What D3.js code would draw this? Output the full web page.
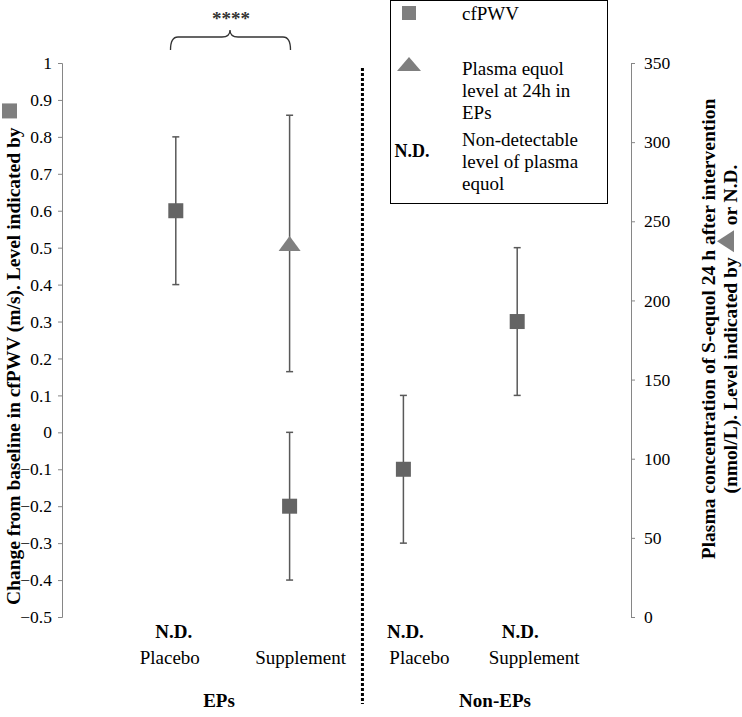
<!DOCTYPE html>
<html><head><meta charset="utf-8">
<script src="https://cdnjs.cloudflare.com/ajax/libs/d3/7.8.5/d3.min.js"></script>
<style>body{margin:0;background:#fff}svg{display:block}</style>
</head><body><svg id="c" width="742" height="717"></svg>
<script>
const categories = ["Placebo","Supplement","Placebo","Supplement"];
const categoryPos = [1,2,3,4];
const groups = ["EPs","Non-EPs"];
const cfpwvMean = [0.6,-0.2,-0.1,0.3];
const cfpwvLow  = [0.4,-0.4,-0.3,0.1];
const cfpwvHigh = [0.8,0.0,0.1,0.5];
const equolMean = [null,236,null,null];
const equolLow  = [null,155,null,null];
const equolHigh = [null,317,null,null];
const notDetected = [true,false,true,true];
const leftTicks = [-0.5,-0.4,-0.3,-0.2,-0.1,0,0.1,0.2,0.3,0.4,0.5,0.6,0.7,0.8,0.9,1];
const rightTicks = [0,50,100,150,200,250,300,350];
const dividerPos = 2.64;

const svg = d3.select("#c");
const font = "'Liberation Serif','Times New Roman',serif";
const x = d3.scaleLinear().domain([0,5]).range([62,631]);
const yL = d3.scaleLinear().domain([-0.5,1]).range([617,63]);
const yR = d3.scaleLinear().domain([0,350]).range([617,63]);

// left axis
const gL = svg.append("g").attr("transform","translate(62,0)")
  .call(d3.axisLeft(yL).tickValues(leftTicks).tickSize(4).tickPadding(6).tickFormat(d=>d3.format("")(+d.toFixed(1))));
gL.selectAll("path,line").attr("stroke","#868686");
gL.select(".domain").attr("d","M-4,617.5H0.5V63.5H-4");
gL.selectAll("text").attr("font-family",font).attr("font-size",17.5).attr("fill","#000");

// right axis
const gR = svg.append("g").attr("transform","translate(631,0)")
  .call(d3.axisRight(yR).tickValues(rightTicks).tickSize(4).tickPadding(9));
gR.selectAll("path,line").attr("stroke","#868686");
gR.select(".domain").attr("d","M4,617.5H0.5V63.5H4");
gR.selectAll("text").attr("font-family",font).attr("font-size",17.5).attr("fill","#000");

// divider
svg.append("line").attr("x1",x(dividerPos)).attr("x2",x(dividerPos)).attr("y1",68).attr("y2",704)
  .attr("stroke","#000").attr("stroke-width",3).attr("stroke-dasharray","3,2");

// error bars
const eb = svg.append("g").attr("stroke","#595959").attr("stroke-width",1.5);
categoryPos.forEach((p,i)=>{
  const cx = x(p);
  eb.append("line").attr("x1",cx).attr("x2",cx).attr("y1",yL(cfpwvLow[i])).attr("y2",yL(cfpwvHigh[i]));
  [cfpwvLow[i],cfpwvHigh[i]].forEach(v=>eb.append("line").attr("x1",cx-3.5).attr("x2",cx+3.5).attr("y1",yL(v)).attr("y2",yL(v)));
  if(equolMean[i]!=null){
    eb.append("line").attr("x1",cx).attr("x2",cx).attr("y1",yR(equolLow[i])).attr("y2",yR(equolHigh[i]));
    [equolLow[i],equolHigh[i]].forEach(v=>eb.append("line").attr("x1",cx-3.5).attr("x2",cx+3.5).attr("y1",yR(v)).attr("y2",yR(v)));
  }
});
// markers
categoryPos.forEach((p,i)=>{
  const cx = x(p);
  svg.append("rect").attr("x",cx-7.5).attr("y",yL(cfpwvMean[i])-7.5).attr("width",15).attr("height",15).attr("fill","#646464");
  if(equolMean[i]!=null){
    const cy = yR(equolMean[i]);
    svg.append("path").attr("d",`M${cx},${cy-7.5}L${cx+11},${cy+7.5}L${cx-11},${cy+7.5}Z`).attr("fill","#808080");
  }
});

// N.D. labels, category labels
const ndOff = [-2,0,2,3];
const catOff = [-6,11,16,17];
categoryPos.forEach((p,i)=>{
  if(notDetected[i]) svg.append("text").attr("x",x(p)+ndOff[i]).attr("y",638).attr("text-anchor","middle")
    .attr("font-family",font).attr("font-weight","bold").attr("font-size",19).text("N.D.");
  svg.append("text").attr("x",x(p)+catOff[i]).attr("y",664).attr("text-anchor","middle")
    .attr("font-family",font).attr("font-size",19).text(categories[i]);
});
const groupX = [219,495];
groups.forEach((g,i)=>svg.append("text").attr("x",groupX[i]).attr("y",707).attr("text-anchor","middle")
  .attr("font-family",font).attr("font-weight","bold").attr("font-size",19).text(g));

// bracket
svg.append("path").attr("d","M170.5,50 Q170.5,37 178,37 L222,37 Q230,37 230,30 Q230,37 238,37 L283,37 Q290.5,37 290.5,50")
  .attr("fill","none").attr("stroke","#333").attr("stroke-width",1.3);
svg.append("text").attr("x",231).attr("y",25).attr("text-anchor","middle").attr("font-family",font)
  .attr("font-size",19).attr("font-weight","bold").attr("fill","#333").text("****");

// legend
const lg = svg.append("g");
lg.append("rect").attr("x",390.5).attr("y",0.5).attr("width",217).attr("height",203).attr("fill","#fff").attr("stroke","#000");
lg.append("rect").attr("x",402).attr("y",6).attr("width",14).attr("height",14).attr("fill","#7f7f7f");
lg.append("path").attr("d","M409,57L421,71L397,71Z").attr("fill","#7f7f7f");
lg.append("text").attr("x",412).attr("y",157).attr("text-anchor","middle").attr("font-family",font)
  .attr("font-weight","bold").attr("font-size",18).text("N.D.");
const legLines = [["cfPWV",20],["Plasma equol",75],["level at 24h in",97],["EPs",119],["Non-detectable",146],["level of plasma",168],["equol",190]];
legLines.forEach(([t,yy])=>lg.append("text").attr("x",462).attr("y",yy).attr("font-family",font).attr("font-size",19).text(t));

// left title
const lt = svg.append("g").attr("transform","translate(20,605) rotate(-90)");
const ltt = lt.append("text").attr("x",0).attr("y",0).attr("font-family",font).attr("font-weight","bold").attr("font-size",19.5)
  .text("Change from baseline in cfPWV (m/s). Level indicated by");
const ltw = ltt.node().getComputedTextLength();
lt.append("rect").attr("x",ltw+9).attr("y",-18).attr("width",15).attr("height",15).attr("fill","#7f7f7f");

// right title
const rt = svg.append("g").attr("transform","translate(0,329)");
const r1 = rt.append("g").attr("transform","translate(715,0) rotate(-90)");
r1.append("text").attr("text-anchor","middle").attr("font-family",font).attr("font-weight","bold").attr("font-size",19.5)
  .text("Plasma concentration of S-equol 24 h after intervention");
const r2 = rt.append("g").attr("transform","translate(737,0) rotate(-90)");
const pa = r2.append("text").attr("font-family",font).attr("font-weight","bold").attr("font-size",19.5).text("(nmol/L). Level indicated by");
const pb = r2.append("text").attr("font-family",font).attr("font-weight","bold").attr("font-size",19.5).text("or N.D.");
const wa = pa.node().getComputedTextLength(), wb = pb.node().getComputedTextLength();
const triW = 22, gap = 5;
const tot = wa+gap+triW+gap+wb;
const s0 = -tot/2;
pa.attr("x",s0);
const tx = s0+wa+gap;
r2.append("path").attr("d",`M${tx+triW/2},-20L${tx+triW},-3L${tx},-3Z`).attr("fill","#7f7f7f");
pb.attr("x",tx+triW+gap);
</script></body></html>
